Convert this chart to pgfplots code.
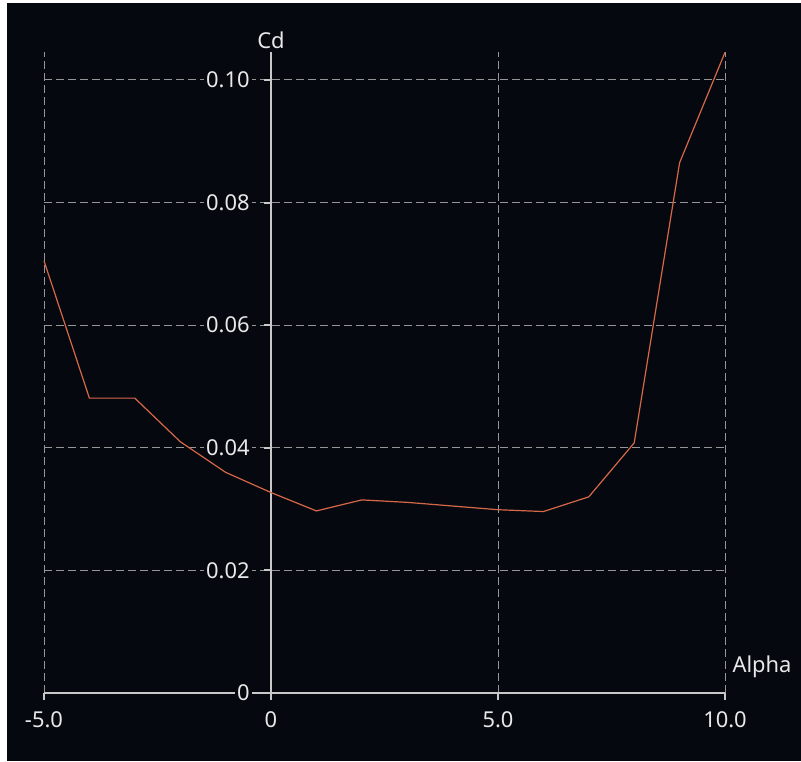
\documentclass[border=0pt]{standalone}
\usepackage{pgfplots}
\pgfplotsset{compat=1.18}
\usepackage{fontspec}
\setmainfont{Noto Sans}
\definecolor{bg}{RGB}{5,8,15}
\definecolor{axiscol}{RGB}{200,200,200}
\definecolor{gridcol}{RGB}{150,150,150}
\definecolor{labcol}{RGB}{232,232,232}
\definecolor{curve}{RGB}{214,104,72}
\begin{document}
\begin{tikzpicture}
\useasboundingbox (0,0) rectangle (400.5bp,381bp);
\fill[white] (0,0) rectangle (400.5bp,381bp);
\fill[bg] (3.5bp,0.5bp) rectangle (400.5bp,379.5bp);
\begin{axis}[
  at={(22bp,34.5bp)}, anchor=south west,
  scale only axis, width=340.5bp, height=320.3bp,
  xmin=-5, xmax=10, ymin=0, ymax=0.1045,
  clip=false,
  axis x line=bottom, axis y line=middle,
  axis line style={draw=axiscol, line width=1bp, -},
  xtick={-5,0,5,10}, xticklabels={-5.0,0,5.0,10.0},
  ytick={0,0.02,0.04,0.06,0.08,0.10},
  yticklabels={0,0.02,0.04,0.06,0.08,0.10},
  grid=major,
  major grid style={draw=gridcol, line width=0.5bp, dash pattern=on 4bp off 2bp},
  tick style={draw=axiscol, line width=1bp},
  tick align=outside, major tick length=3.5bp,
  hide obscured x ticks=false, hide obscured y ticks=false,
  xticklabel style={font=\fontsize{11}{13}\selectfont, text=labcol, anchor=center, yshift=-10bp},
  yticklabel style={font=\fontsize{11}{13}\selectfont, text=labcol, anchor=east, fill=bg, inner sep=1bp, xshift=-6bp},
]
\addplot[curve, line width=0.6bp] coordinates {
(-5,0.0705) (-4,0.0481) (-3,0.0481) (-2,0.0410) (-1,0.0360) (0,0.0327)
(1,0.0297) (2,0.0315) (3,0.0311) (4,0.0305) (5,0.0299) (6,0.0296)
(7,0.0320) (8,0.0408) (9,0.0865) (10,0.1045)
};
\node[text=labcol, font=\fontsize{11}{13}\selectfont, anchor=center, yshift=6bp] at (axis cs:0,0.1045) {Cd};
\node[text=labcol, font=\fontsize{11}{13}\selectfont, anchor=center, xshift=18.5bp, yshift=13bp] at (axis cs:10,0) {Alpha};
\end{axis}
\end{tikzpicture}
\end{document}
